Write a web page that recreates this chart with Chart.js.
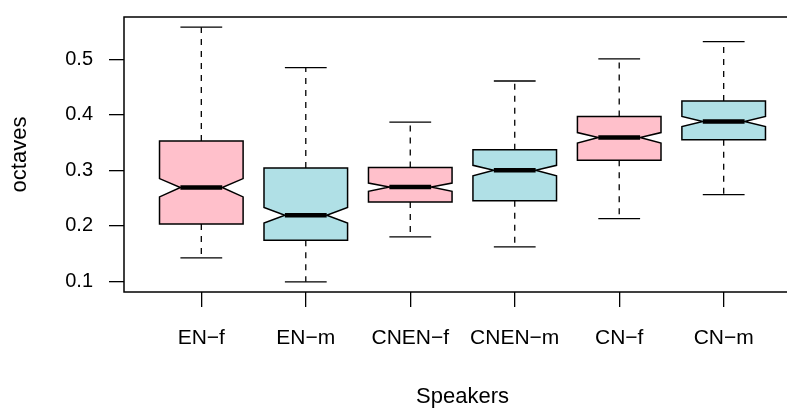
<!DOCTYPE html>
<html>
<head>
<meta charset="utf-8">
<script src="https://cdn.jsdelivr.net/npm/chart.js@4"></script>
<style>
html,body{margin:0;padding:0;background:#fff;overflow:hidden;}
canvas{display:block;}
</style>
</head>
<body>
<canvas id="boxChart" width="820" height="410"></canvas>
<script>
// speakers groups and box stats (octaves)
const speakers = ["EN\u2212f", "EN\u2212m", "CNEN\u2212f", "CNEN\u2212m", "CN\u2212f", "CN\u2212m"];
const lowerWhisker = [0.142, 0.099, 0.180, 0.162, 0.213, 0.256];
const q1 = [0.203, 0.174, 0.243, 0.245, 0.318, 0.355];
const notchLow = [0.252, 0.205, 0.262, 0.290, 0.349, 0.379];
const median = [0.269, 0.219, 0.270, 0.300, 0.359, 0.388];
const notchHigh = [0.285, 0.233, 0.277, 0.309, 0.368, 0.397];
const q3 = [0.353, 0.304, 0.305, 0.337, 0.397, 0.425];
const upperWhisker = [0.558, 0.485, 0.387, 0.461, 0.501, 0.532];
const yTicks = [0.1, 0.2, 0.3, 0.4, 0.5];

const boxFill = ["#FFC0CB", "#B0E0E6"];
const FONT = "'Liberation Sans', Arial, Helvetica, sans-serif";

/* ===== notched box plugin ===== */
const notchBoxes = {
    id: "notchBoxes",
    afterDatasetsDraw(chart){
        const ctx = chart.ctx;
        const xs = chart.scales.x;
        const ys = chart.scales.y;
        const wid = xs.getPixelForValue(1.8) - xs.getPixelForValue(1); // boxwex 0.8

        ctx.save();
        speakers.forEach((s, i) => {
            const cx = xs.getPixelForValue(i + 1);
            const yLw = ys.getPixelForValue(lowerWhisker[i]);
            const yQ1 = ys.getPixelForValue(q1[i]);
            const yNl = ys.getPixelForValue(notchLow[i]);
            const yMd = ys.getPixelForValue(median[i]);
            const yNh = ys.getPixelForValue(notchHigh[i]);
            const yQ3 = ys.getPixelForValue(q3[i]);
            const yUw = ys.getPixelForValue(upperWhisker[i]);
            const h = wid / 2, qn = wid / 4;

            // whiskers
            ctx.strokeStyle = "#000";
            ctx.lineWidth = 1.3;
            ctx.setLineDash([6, 6]);
            ctx.beginPath();
            ctx.moveTo(cx, yQ3); ctx.lineTo(cx, yUw);
            ctx.moveTo(cx, yQ1); ctx.lineTo(cx, yLw);
            ctx.stroke();
            ctx.setLineDash([]);

            // staples
            ctx.beginPath();
            ctx.moveTo(cx - qn, yUw); ctx.lineTo(cx + qn, yUw);
            ctx.moveTo(cx - qn, yLw); ctx.lineTo(cx + qn, yLw);
            ctx.stroke();

            // notched box
            ctx.beginPath();
            ctx.moveTo(cx - h, yQ1);
            ctx.lineTo(cx - h, yNl);
            ctx.lineTo(cx - qn, yMd);
            ctx.lineTo(cx - h, yNh);
            ctx.lineTo(cx - h, yQ3);
            ctx.lineTo(cx + h, yQ3);
            ctx.lineTo(cx + h, yNh);
            ctx.lineTo(cx + qn, yMd);
            ctx.lineTo(cx + h, yNl);
            ctx.lineTo(cx + h, yQ1);
            ctx.closePath();
            ctx.fillStyle = boxFill[i % 2];
            ctx.fill();
            ctx.lineWidth = 1.5;
            ctx.lineJoin = "miter";
            ctx.stroke();

            // median
            ctx.beginPath();
            ctx.lineWidth = 4.5;
            ctx.lineCap = "butt";
            ctx.moveTo(cx - qn, yMd); ctx.lineTo(cx + qn, yMd);
            ctx.stroke();
        });

        // frame round plot region
        const a = chart.chartArea;
        ctx.lineWidth = 1.5;
        ctx.strokeStyle = "#000";
        ctx.strokeRect(a.left, a.top, a.right - a.left, a.bottom - a.top);
        ctx.restore();
    }
};

new Chart(document.getElementById("boxChart"), {
    type: "scatter",
    data: {
        datasets: [{
            data: median.map((m, i) => ({x: i + 1, y: m})),
            pointRadius: 0,
            showLine: false
        }]
    },
    options: {
        responsive: false,
        animation: false,
        events: [],
        layout: { padding: { top: 17, right: 19, left: 0, bottom: 0 } },
        plugins: { legend: { display: false }, tooltip: { enabled: false } },
        scales: {
            x: {
                type: "linear",
                min: 0.26,
                max: 6.74,
                afterBuildTicks: s => { s.ticks = speakers.map((n, i) => ({value: i + 1})); },
                afterFit: s => { s.height = 118; s.paddingLeft = 0; s.paddingRight = 0; },
                border: { display: false },
                grid: { drawOnChartArea: false, drawTicks: true, tickLength: 15, color: "#000", lineWidth: 1.3 },
                ticks: {
                    color: "#000", padding: 19, maxRotation: 0, autoSkip: false,
                    font: { family: FONT, size: 21 },
                    callback: v => speakers[Math.round(v) - 1]
                },
                title: {
                    display: true, text: "Speakers", color: "#000",
                    font: { family: FONT, size: 22 }, padding: { top: -2, bottom: 0 }
                }
            },
            y: {
                type: "linear",
                min: 0.0806,
                max: 0.5764,
                afterBuildTicks: s => { s.ticks = yTicks.map(v => ({value: v})); },
                afterFit: s => { s.width = 124; s.paddingTop = 0; s.paddingBottom = 0; },
                border: { display: false },
                grid: { drawOnChartArea: false, drawTicks: true, tickLength: 15, color: "#000", lineWidth: 1.3 },
                ticks: {
                    color: "#000", padding: 16,
                    font: { family: FONT, size: 20 },
                    callback: v => v.toFixed(1)
                },
                title: {
                    display: true, text: "octaves", color: "#000",
                    font: { family: FONT, size: 22 }, padding: { top: 7, bottom: 0 }
                }
            }
        }
    },
    plugins: [notchBoxes]
});
</script>
</body>
</html>
